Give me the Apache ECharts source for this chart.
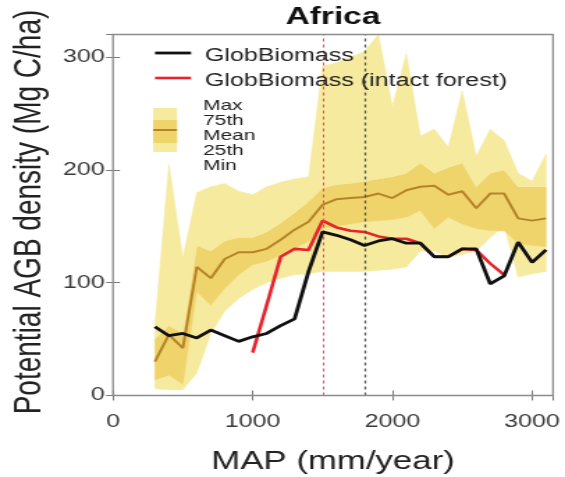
<!DOCTYPE html>
<html>
<head>
<meta charset="utf-8">
<script src="https://cdn.jsdelivr.net/npm/echarts@6/dist/echarts.min.js"></script>
<style>
  html, body { margin: 0; padding: 0; background: #fff; overflow: hidden; }
  #wrap { width: 565px; height: 477px; overflow: hidden; }
  /* the figure is drawn narrow and widened, like the original stretched export */
  #chart { width: 406px; height: 477px; transform: scaleX(1.39163); transform-origin: 0 0; }
</style>
</head>
<body>
<div id="wrap"><div id="chart"></div></div>
<script>
// Mean annual precipitation bins (mm/year)
const mapBins = [300, 400, 500, 600, 700, 800, 900, 1000, 1100, 1200, 1300, 1400, 1500, 1600, 1700,
                 1800, 1900, 2000, 2100, 2200, 2300, 2400, 2500, 2600, 2700, 2800, 2900, 3000, 3100];

// Potential AGB density envelope per bin (Mg C/ha)
const agbMax  = [62, 205, 122, 180, 185, 188, 181, 178, 185, 189, 192, 194, 292, 295, 300,
                 305, 320, 256, 303, 230, 236, 220, 270, 212, 236, 226, 197, 190, 214];
const agbP75  = [50, 62, 55, 133, 128, 137, 140, 140, 145, 153, 162, 172, 184, 187, 188,
                 190, 192, 194, 197, 206, 197, 202, 206, 185, 197, 200, 185, 185, 185];
const agbMean = [30, 54, 42, 114, 104, 121, 127, 127, 130, 138, 147, 154, 169, 174, 175,
                 176, 179, 175, 182, 185, 186, 178, 181, 166, 179, 179, 157, 155, 157];
const agbP25  = [14, 18, 10, 92, 80, 95, 107, 116, 119, 124, 130, 137, 148, 150, 152,
                 154, 155, 156, 158, 164, 148, 158, 152, 148, 146, 146, 135, 133, 132];
const agbMin  = [6, 5, 5, 20, 55, 75, 86, 94, 100, 104, 107, 108, 110, 110, 110,
                 110, 111, 112, 114, 128, 128, 122, 125, 128, 140, 150, 105, 108, 110];

// GlobBiomass AGB (all forest and intact forest only)
const globBiomass = [61, 53, 55, 51, 58, 53, 48, 52, 55, 62, 68, 110, 145, 142, 138,
                     133, 137, 139, 135, 135, 123, 123, 130, 130, 99, 106, 136, 118, 129];
const globIntact  = [null, null, null, null, null, null, null, 38, 80, 123, 130, 129, 155, 149, 146,
                     145, 141, 139, 139, 135, 123, 123, 130, 129, 117, 107, null, null, null];

// Reference precipitation markers
const markerIntact = 1500;
const markerAll = 1800;

const xTicks = [0, 1000, 2000, 3000];
const yTicks = [0, 100, 200, 300];

const FONT = '"Liberation Sans", Arial, Helvetica, sans-serif';
const LIGHT = '#F6EA9E';
const MEDIUM = '#EFD46C';
const BROWN = '#B68328';

const pairs = (vals) => mapBins.map((x, i) => [x, vals[i]]).filter(p => p[1] !== null);

// shaded envelope bands: [lower, upper, colour]
const bands = [
  [agbMin, agbP25, LIGHT],
  [agbP25, agbP75, MEDIUM],
  [agbP75, agbMax, LIGHT]
];

function renderBand(params, api) {
  const [lo, hi, color] = bands[api.value(2)];
  const pts = [];
  for (let i = 0; i < mapBins.length; i++) pts.push(api.coord([mapBins[i], hi[i]]));
  for (let i = mapBins.length - 1; i >= 0; i--) pts.push(api.coord([mapBins[i], lo[i]]));
  return {
    type: 'polygon',
    shape: { points: pts },
    style: { fill: color, stroke: color, lineWidth: 0.5 },
    silent: true
  };
}

const chart = echarts.init(document.getElementById('chart'), null, { renderer: 'canvas' });

const tickStyle = { show: true, inside: true, length: 5, lineStyle: { color: '#7a7a7a', width: 1 } };
const TOPZ = 100;

chart.setOption({
  animation: false,
  backgroundColor: '#fff',
  grid: { left: 81.2, right: 8.6, top: 34.5, bottom: 81.5, show: true, borderColor: '#8c8c8c', borderWidth: 1.3, backgroundColor: 'transparent', z: 50 },
  xAxis: [{
    type: 'value', min: 0, max: 3150, interval: 1000,
    axisLine: { show: false }, splitLine: { show: false }, axisTick: tickStyle,
    axisLabel: { color: '#3a3a3a', fontSize: 18, fontFamily: FONT, margin: 18, showMaxLabel: false,
      formatter: v => xTicks.includes(v) ? String(v) : '' }
  }, {
    type: 'value', position: 'top', min: 0, max: 3150, interval: 1000,
    axisLine: { show: false }, splitLine: { show: false }, axisTick: tickStyle, axisLabel: { show: false }
  }],
  yAxis: [{
    type: 'value', min: 0, max: 320, interval: 100,
    axisLine: { show: false }, splitLine: { show: false }, axisTick: tickStyle,
    axisLabel: { color: '#3a3a3a', fontSize: 18, fontFamily: FONT, margin: 6, showMaxLabel: false,
      formatter: v => yTicks.includes(v) ? String(v) : '' }
  }, {
    type: 'value', position: 'right', min: 0, max: 320, interval: 100,
    axisLine: { show: false }, splitLine: { show: false }, axisTick: tickStyle, axisLabel: { show: false }
  }],
  series: [
    {
      name: 'Envelope', type: 'custom', renderItem: renderBand, z: 1, silent: true,
      clip: true,
      data: bands.map((b, k) => [mapBins[0], 0, k]),
      encode: { x: 0, y: 1 }
    },
    {
      name: 'Mean', type: 'line', data: pairs(agbMean), symbol: 'none', z: 3,
      lineStyle: { color: BROWN, width: 2 },
      markLine: {
        symbol: 'none', silent: true, label: { show: false },
        data: [
          { xAxis: markerIntact, lineStyle: { color: '#e0505a', type: [3, 3], width: 1 } },
          { xAxis: markerAll, lineStyle: { color: '#505050', type: [3, 3], width: 1.2 } }
        ]
      }
    },
    {
      name: 'GlobBiomass (intact forest)', type: 'line', data: pairs(globIntact), symbol: 'none', z: 4,
      lineStyle: { color: '#E8232B', width: 2.6 }
    },
    {
      name: 'GlobBiomass', type: 'line', data: pairs(globBiomass), symbol: 'none', z: 5,
      lineStyle: { color: '#111111', width: 2.8 }
    }
  ],
  graphic: [
    // title
    { type: 'text', z: TOPZ, position: [239.3, 17], style: { text: 'Africa', font: 'bold 24px ' + FONT, fill: '#111', align: 'center', verticalAlign: 'middle' } },
    // axis titles
    { type: 'text', z: TOPZ, position: [239.3, 462], style: { text: 'MAP (mm/year)', font: '25px ' + FONT, fill: '#222', align: 'center', verticalAlign: 'middle' } },
    { type: 'text', z: TOPZ, position: [21.6, 212], rotation: Math.PI / 2, style: { text: 'Potential AGB density (Mg C/ha)', font: '28px ' + FONT, fill: '#222', align: 'center', verticalAlign: 'middle' } },
    // line legend
    { type: 'line', z: TOPZ, shape: { x1: 111.4, y1: 53, x2: 137.3, y2: 53 }, style: { stroke: '#111', lineWidth: 2.8 } },
    { type: 'text', z: TOPZ, position: [147.3, 56], style: { text: 'GlobBiomass', font: '18px ' + FONT, fill: '#222', align: 'left', verticalAlign: 'middle' } },
    { type: 'line', z: TOPZ, shape: { x1: 111.4, y1: 78, x2: 137.3, y2: 78 }, style: { stroke: '#E8232B', lineWidth: 2.6 } },
    { type: 'text', z: TOPZ, position: [147.3, 81], style: { text: 'GlobBiomass (intact forest)', font: '18px ' + FONT, fill: '#222', align: 'left', verticalAlign: 'middle' } },
    // envelope legend
    { type: 'rect', z: TOPZ, shape: { x: 110, y: 108, width: 17.2, height: 44 }, style: { fill: LIGHT } },
    { type: 'rect', z: TOPZ, shape: { x: 110, y: 120, width: 17.2, height: 23 }, style: { fill: MEDIUM } },
    { type: 'line', z: TOPZ, shape: { x1: 110, y1: 130, x2: 127.2, y2: 130 }, style: { stroke: BROWN, lineWidth: 2 } },
    { type: 'text', z: TOPZ, position: [146, 106], style: { text: 'Max', font: '15px ' + FONT, fill: '#222', verticalAlign: 'middle' } },
    { type: 'text', z: TOPZ, position: [146, 121], style: { text: '75th', font: '15px ' + FONT, fill: '#222', verticalAlign: 'middle' } },
    { type: 'text', z: TOPZ, position: [146, 136], style: { text: 'Mean', font: '15px ' + FONT, fill: '#222', verticalAlign: 'middle' } },
    { type: 'text', z: TOPZ, position: [146, 151], style: { text: '25th', font: '15px ' + FONT, fill: '#222', verticalAlign: 'middle' } },
    { type: 'text', z: TOPZ, position: [146, 165.5], style: { text: 'Min', font: '15px ' + FONT, fill: '#222', verticalAlign: 'middle' } }
  ]
});
</script>
</body>
</html>
